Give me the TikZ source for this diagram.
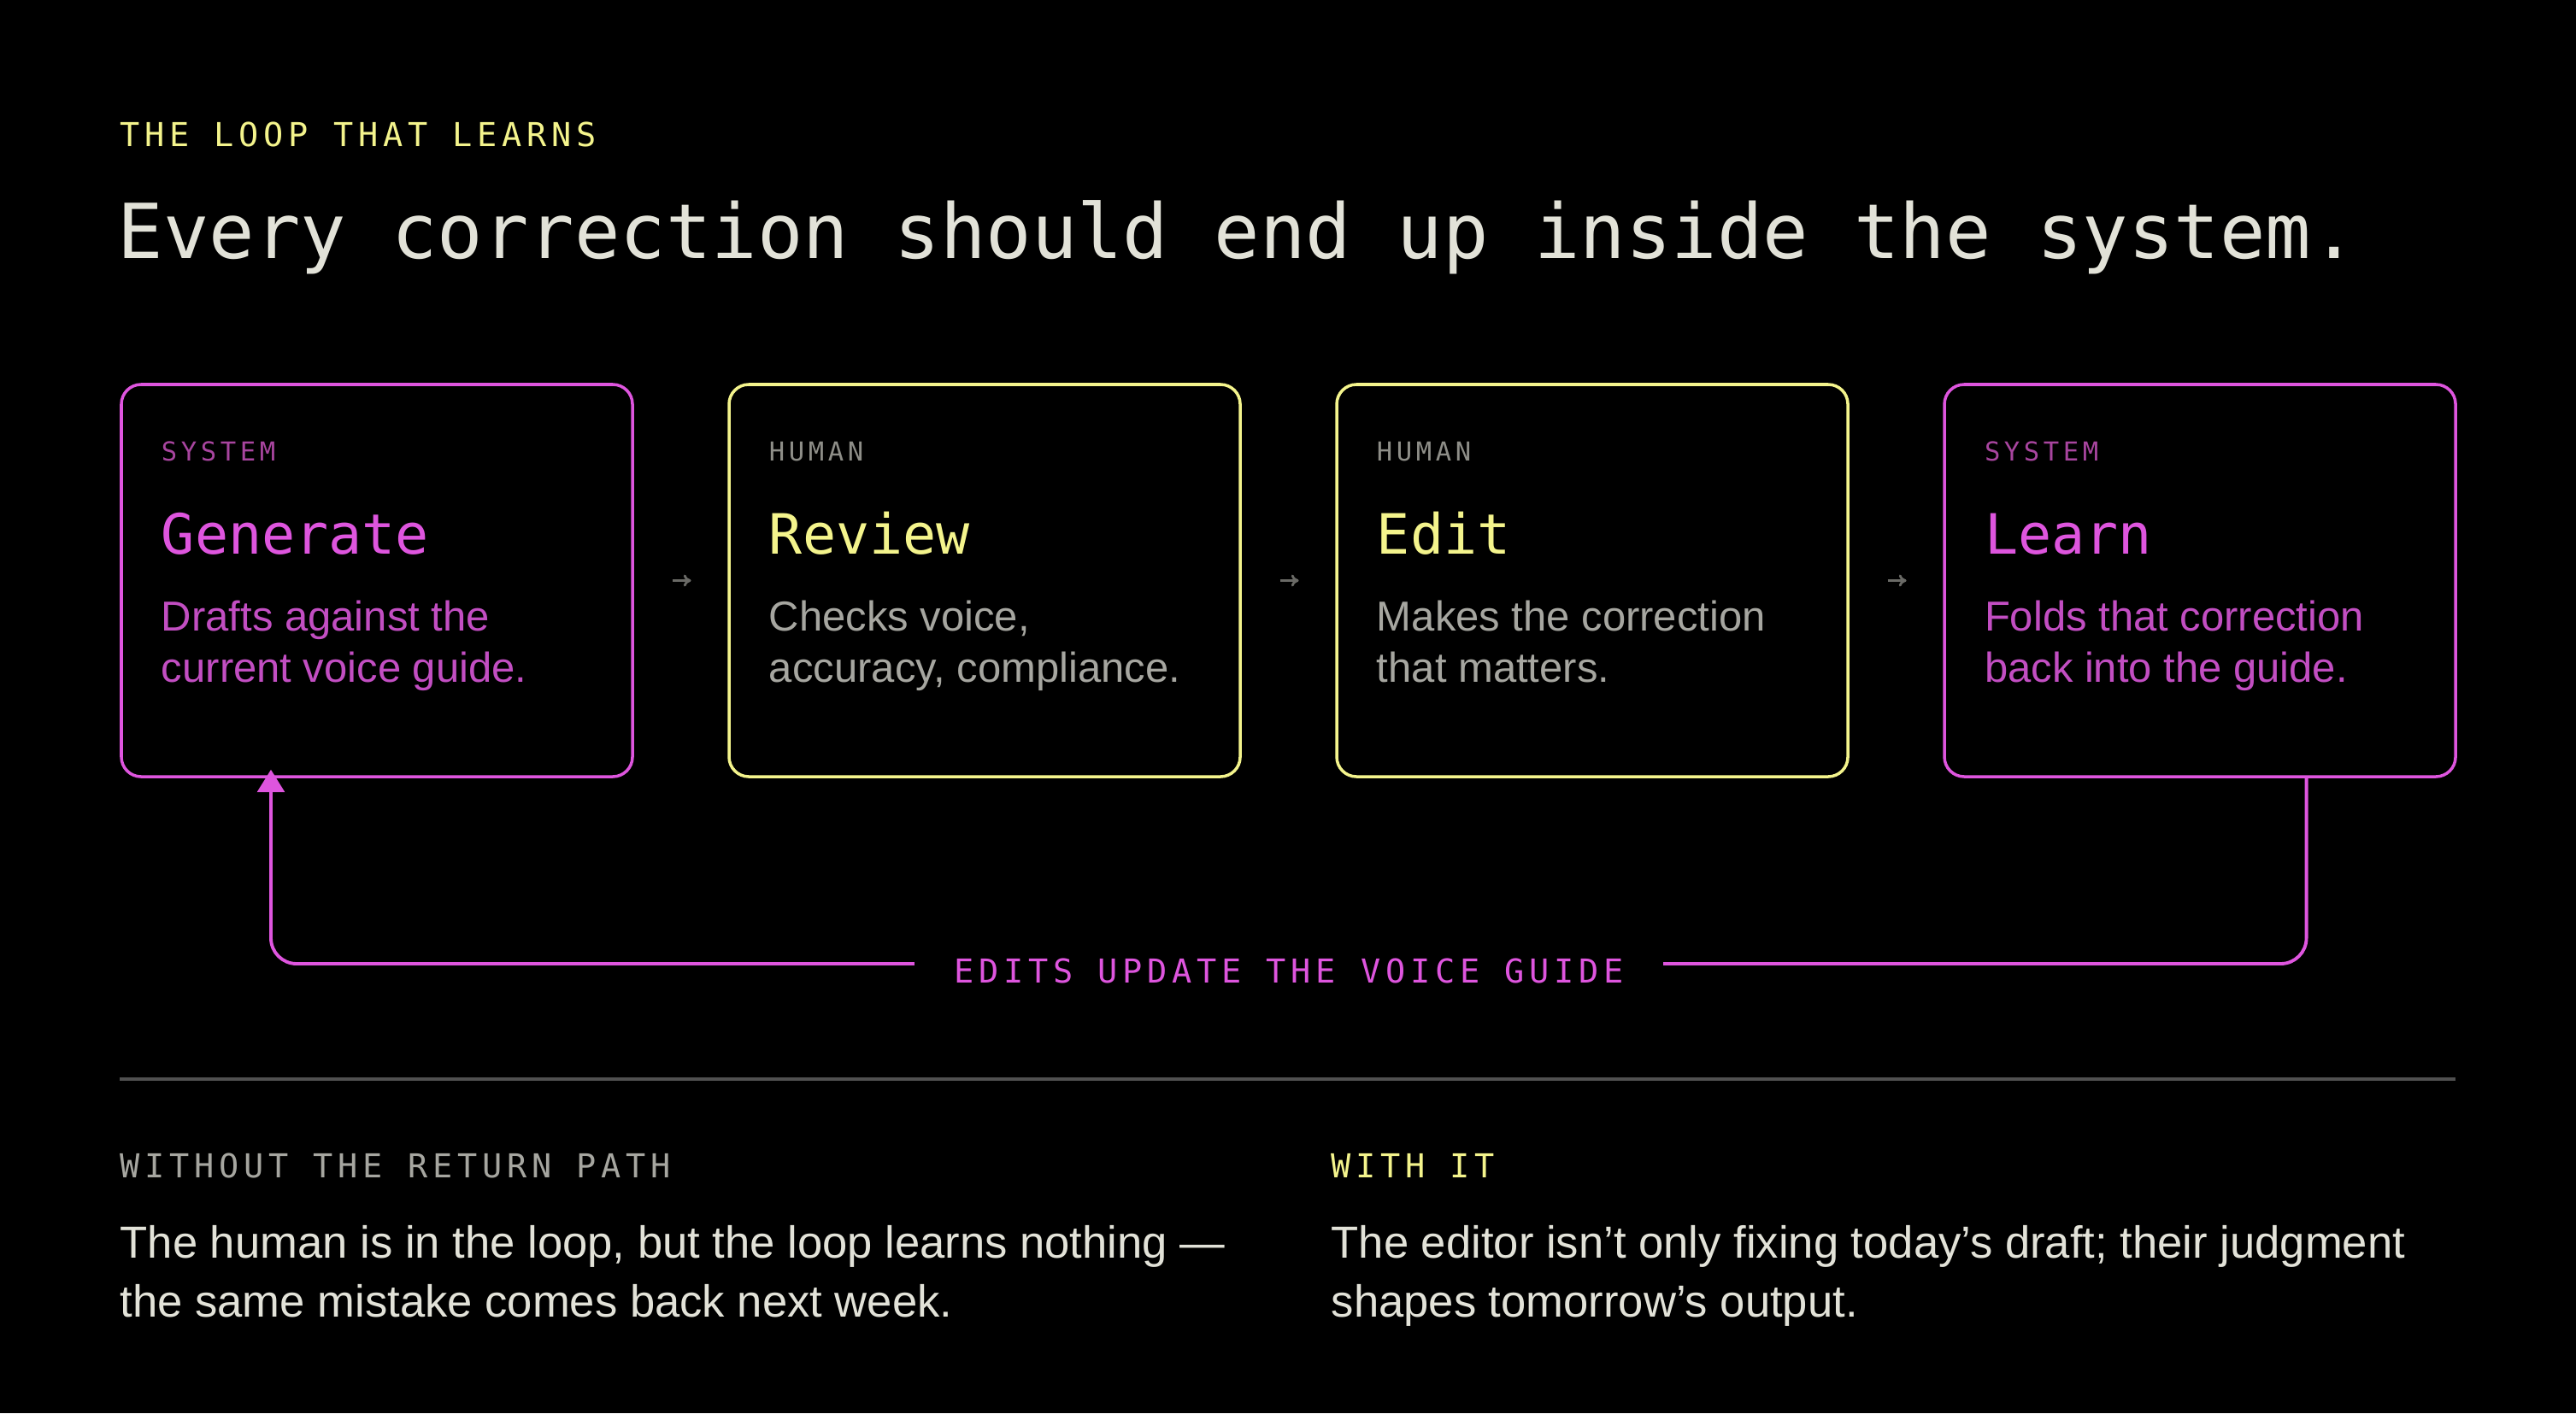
\documentclass[tikz,border=0pt]{standalone}
\usepackage{fontspec}
\setmainfont{Liberation Sans}
\newfontfamily\monofont{DejaVu Sans Mono}
\newfontfamily\capsfont[LetterSpace=15]{DejaVu Sans Mono}
\usetikzlibrary{positioning,calc,arrows.meta}

\definecolor{mag}{HTML}{DE55DE}
\definecolor{softmag}{HTML}{C24EC2}
\definecolor{dimmag}{HTML}{A8459F}
\definecolor{yel}{HTML}{F4F48C}
\definecolor{chalk}{HTML}{E2E2D8}
\definecolor{ash}{HTML}{A6A6A0}
\definecolor{dimash}{HTML}{8E8E88}
\definecolor{slate}{HTML}{6A6A66}
\definecolor{rulegray}{HTML}{505050}

\begin{document}
\begin{tikzpicture}[
  stage/.style={draw, rounded corners=0.23cm, line width=1pt, minimum width=5.98cm, minimum height=4.59cm, inner sep=0pt},
  kind/.style={anchor=base west, inner sep=0pt, font=\capsfont\fontsize{8.7}{10}\selectfont},
  head/.style={anchor=base west, inner sep=0pt, font=\monofont\fontsize{18.5}{22}\selectfont},
  blurb/.style={anchor=base west, inner sep=0pt, align=left, font=\fontsize{13.94}{17.07}\selectfont},
  tag/.style={anchor=base west, inner sep=0pt, font=\capsfont\fontsize{10.97}{12}\selectfont},
  para/.style={anchor=base west, inner sep=0pt, align=left, text=chalk, font=\fontsize{14.97}{19.63}\selectfont},
  nudge/.style={draw=slate, line width=0.8pt, -{To[length=2.5pt,width=4pt]}},
  loopline/.style={draw=mag, line width=1.1pt, rounded corners=0.3cm}
]
% background and page size
\fill[black] (0,0) rectangle (30.14,-16.54);

% heading
\node[tag, text=yel] (kicker) at (1.40,-1.71) {THE LOOP THAT LEARNS};
\node[anchor=base west, inner sep=0pt, text=chalk, font=\monofont\fontsize{25.27}{30}\selectfont] (title) at (1.37,-3.02) {Every correction should end up inside the system.};

% the four stages
\node[stage, draw=mag] (gen) at (4.41,-6.795) {};
\node[stage, draw=yel, right=1.095cm of gen] (rev) {};
\node[stage, draw=yel, right=1.095cm of rev] (edit) {};
\node[stage, draw=mag, right=1.095cm of edit] (learn) {};

\node[kind, text=dimmag] at ([shift={(0.48,-0.91)}]gen.north west) {SYSTEM};
\node[head, text=mag] at ([shift={(0.48,-2.0)}]gen.north west) {Generate};
\node[blurb, text=softmag] at ([shift={(0.48,-3.5)}]gen.north west) {Drafts against the\\current voice guide.};

\node[kind, text=dimash] at ([shift={(0.48,-0.91)}]rev.north west) {HUMAN};
\node[head, text=yel] at ([shift={(0.48,-2.0)}]rev.north west) {Review};
\node[blurb, text=ash] at ([shift={(0.48,-3.5)}]rev.north west) {Checks voice,\\accuracy, compliance.};

\node[kind, text=dimash] at ([shift={(0.48,-0.91)}]edit.north west) {HUMAN};
\node[head, text=yel] at ([shift={(0.48,-2.0)}]edit.north west) {Edit};
\node[blurb, text=ash] at ([shift={(0.48,-3.5)}]edit.north west) {Makes the correction\\that matters.};

\node[kind, text=dimmag] at ([shift={(0.48,-0.91)}]learn.north west) {SYSTEM};
\node[head, text=mag] at ([shift={(0.48,-2.0)}]learn.north west) {Learn};
\node[blurb, text=softmag] at ([shift={(0.48,-3.5)}]learn.north west) {Folds that correction\\back into the guide.};

% small arrows between stages
\draw[nudge] ($(gen.east)!0.41!(rev.west)$) -- ($(gen.east)!0.61!(rev.west)$);
\draw[nudge] ($(rev.east)!0.41!(edit.west)$) -- ($(rev.east)!0.61!(edit.west)$);
\draw[nudge] ($(edit.east)!0.41!(learn.west)$) -- ($(edit.east)!0.61!(learn.west)$);

% return path
\node[anchor=center, inner xsep=0.46cm, inner ysep=0pt, text height=0.44cm, text depth=0pt, text=mag, font=\capsfont\fontsize{10.97}{12}\selectfont] (back) at (15.08,-11.28) {EDITS UPDATE THE VOICE GUIDE};
\draw[loopline] ([xshift=1.245cm]learn.south) |- (back.east);
\draw[loopline, -{Triangle[width=9pt,length=7.5pt]}] (back.west) -| ([xshift=-1.24cm,yshift=0.1cm]gen.south);

% below the rule
\draw[rulegray, line width=1pt] (1.40,-12.63) -- (28.73,-12.63);
\node[tag, text=ash] (without) at (1.40,-13.78) {WITHOUT THE RETURN PATH};
\node[tag, text=yel] (withit) at (15.57,-13.78) {WITH IT};
\node[para] at (1.40,-15.41) {The human is in the loop, but the loop learns nothing —\\the same mistake comes back next week.};
\node[para] at (15.57,-15.41) {The editor isn't only fixing today's draft; their judgment\\shapes tomorrow's output.};
\end{tikzpicture}
\end{document}
